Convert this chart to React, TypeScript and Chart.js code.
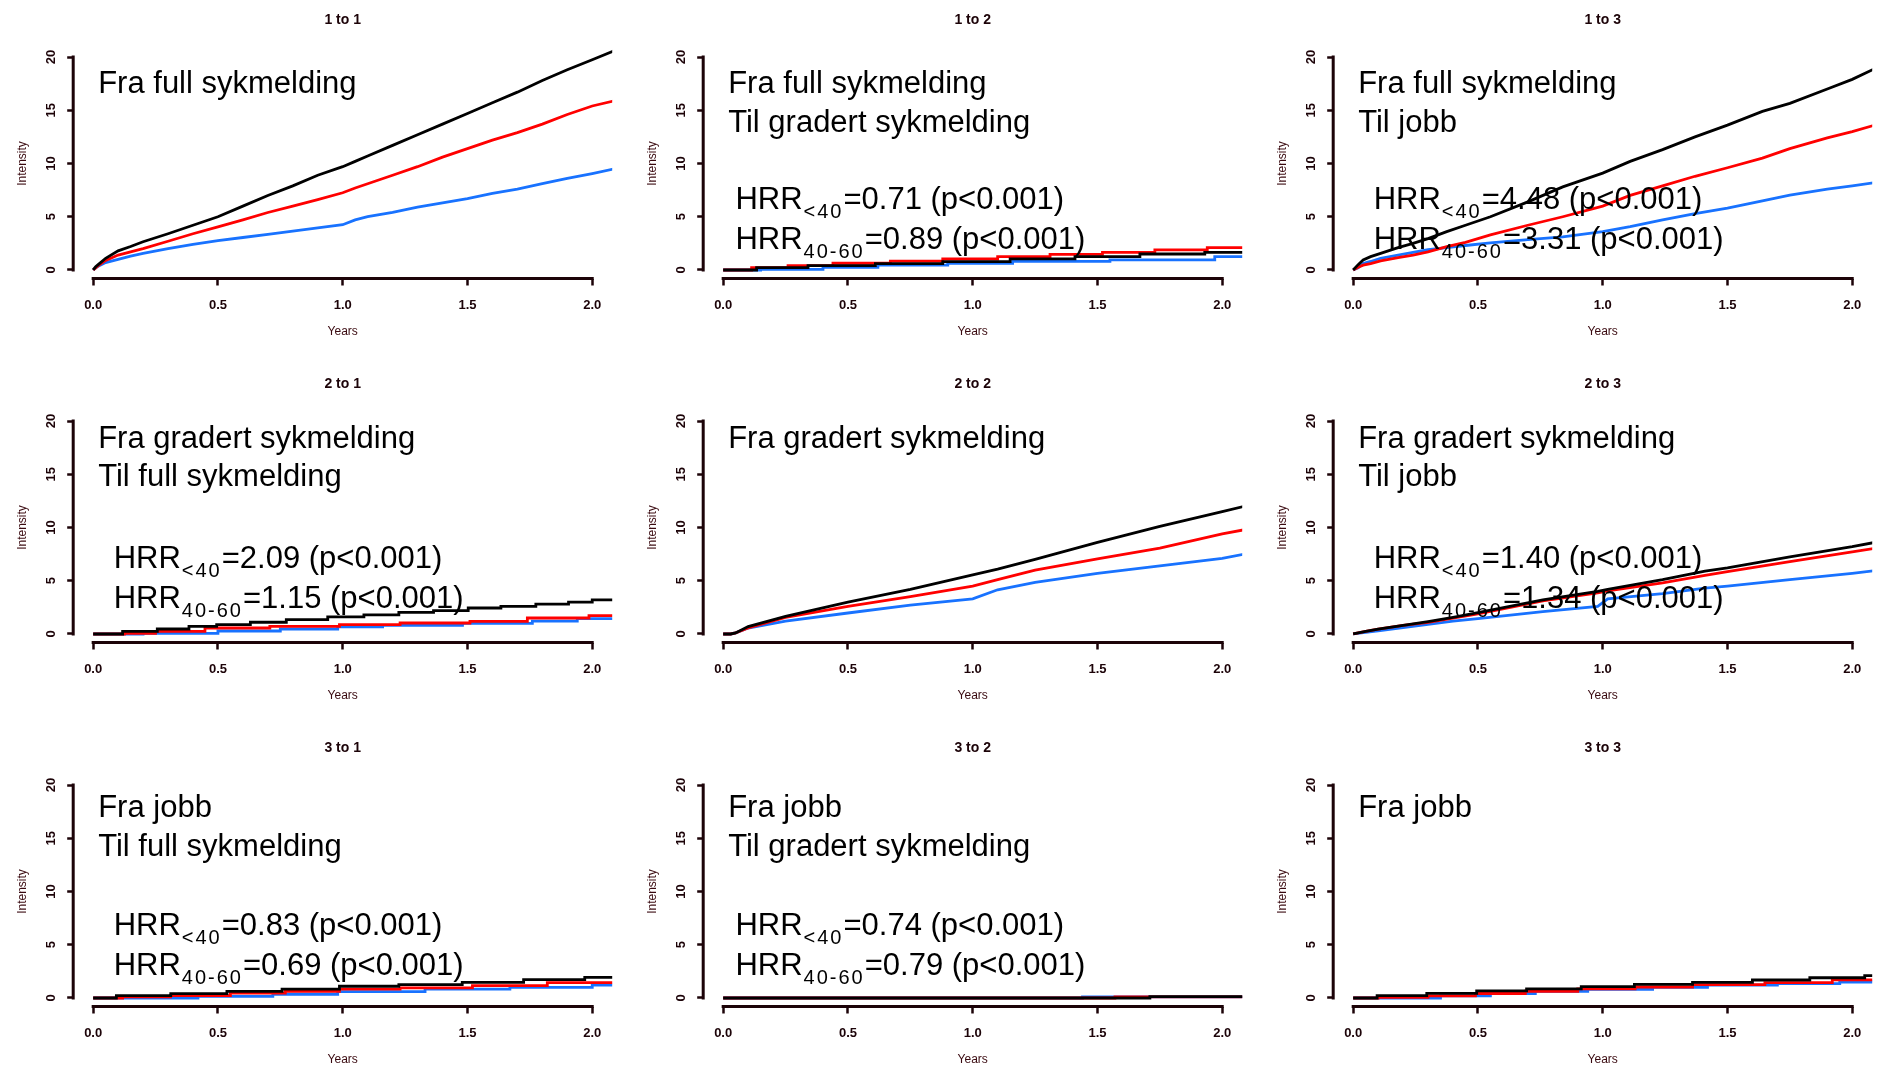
import React, { useEffect, useRef } from 'react';
import { Chart, registerables } from 'chart.js';

Chart.register(...registerables);

const FONT = "'Liberation Sans', Arial, Helvetica, sans-serif";
const AXIS_COLOR = '#1c0308';
const TICK_TEXT = '#1c0308';
const AXIS_TITLE = '#3a0a10';
const BLACK = '#000000';
const RED = '#ff0000';
const BLUE = '#1872ff';

// ---- ticks / ranges ----
const X_TICKS = [0, 0.5, 1.0, 1.5, 2.0];
const Y_TICKS = [0, 5, 10, 15, 20];
const X_MIN = -0.08;
const X_MAX = 2.08;
const Y_MIN = -0.8;
const Y_MAX = 20.8;

// ---- panel titles / texts ----
const PANEL_TITLES = ['1 to 1', '1 to 2', '1 to 3', '2 to 1', '2 to 2', '2 to 3', '3 to 1', '3 to 2', '3 to 3'];
const PANEL_LINES = [
  ['Fra full sykmelding'],
  ['Fra full sykmelding', 'Til gradert sykmelding'],
  ['Fra full sykmelding', 'Til jobb'],
  ['Fra gradert sykmelding', 'Til full sykmelding'],
  ['Fra gradert sykmelding'],
  ['Fra gradert sykmelding', 'Til jobb'],
  ['Fra jobb', 'Til full sykmelding'],
  ['Fra jobb', 'Til gradert sykmelding'],
  ['Fra jobb'],
];
const HRR_UNDER40 = [null, '0.71', '4.48', '2.09', null, '1.40', '0.83', '0.74', null];
const HRR_40TO60 = [null, '0.89', '3.31', '1.15', null, '1.34', '0.69', '0.79', null];
const SERIES_NAMES = ['Svart', 'Rød', 'Blå'];

// ---- 1 to 1 ----
const T_1TO1 = [0, 0.01, 0.02, 0.05, 0.1, 0.15, 0.2, 0.3, 0.4, 0.5, 0.6, 0.7, 0.8, 0.9, 1.0, 1.05, 1.1, 1.2, 1.3, 1.4, 1.5, 1.6, 1.7, 1.8, 1.9, 2.0, 2.09];
const BLACK_1TO1 = [0, 0.3, 0.5, 1.1, 1.8, 2.2, 2.65, 3.4, 4.2, 5.0, 6.0, 7.0, 7.9, 8.9, 9.7, 10.2, 10.7, 11.7, 12.7, 13.7, 14.7, 15.7, 16.7, 17.8, 18.8, 19.75, 20.6];
const RED_1TO1 = [0, 0.2, 0.4, 0.9, 1.4, 1.7, 2.0, 2.7, 3.4, 4.05, 4.7, 5.4, 6.0, 6.6, 7.25, 7.7, 8.1, 8.9, 9.7, 10.6, 11.4, 12.2, 12.9, 13.7, 14.6, 15.4, 15.9];
const BLUE_1TO1 = [0, 0.2, 0.35, 0.7, 1.0, 1.3, 1.55, 2.0, 2.4, 2.75, 3.05, 3.35, 3.65, 3.95, 4.25, 4.7, 5.0, 5.4, 5.9, 6.3, 6.7, 7.2, 7.6, 8.1, 8.6, 9.05, 9.5];

// ---- 1 to 2 (steps) ----
const T_BLACK_1TO2 = [0, 0.134, 0.34, 0.61, 0.88, 1.15, 1.41, 1.67, 1.93, 2.09];
const BLACK_1TO2 = [0, 0.22, 0.4, 0.6, 0.78, 1.05, 1.25, 1.5, 1.66, 1.66];
const T_RED_1TO2 = [0, 0.114, 0.26, 0.44, 0.67, 0.88, 1.1, 1.31, 1.52, 1.73, 1.94, 2.09];
const RED_1TO2 = [0, 0.22, 0.4, 0.63, 0.84, 1.03, 1.25, 1.47, 1.66, 1.88, 2.1, 2.1];
const T_BLUE_1TO2 = [0, 0.15, 0.4, 0.62, 0.9, 1.16, 1.55, 1.97, 2.09];
const BLUE_1TO2 = [0, 0.05, 0.25, 0.45, 0.63, 0.8, 0.95, 1.25, 1.25];

// ---- 1 to 3 ----
const T_1TO3 = [0, 0.02, 0.04, 0.07, 0.11, 0.18, 0.24, 0.3, 0.375, 0.45, 0.55, 0.7, 0.84, 1.0, 1.11, 1.24, 1.37, 1.5, 1.64, 1.75, 1.9, 2.0, 2.09];
const BLACK_1TO3 = [0, 0.5, 0.94, 1.25, 1.56, 2.1, 2.5, 2.95, 3.6, 4.2, 5.0, 6.4, 7.8, 9.1, 10.2, 11.3, 12.5, 13.6, 14.9, 15.65, 17.0, 17.9, 18.9];
const RED_1TO3 = [0, 0.25, 0.45, 0.6, 0.85, 1.15, 1.4, 1.7, 2.2, 2.6, 3.3, 4.2, 5.0, 6.0, 7.0, 7.9, 8.8, 9.6, 10.5, 11.4, 12.4, 13.0, 13.6];
const BLUE_1TO3 = [0, 0.2, 0.6, 0.8, 1.1, 1.4, 1.65, 1.9, 2.1, 2.3, 2.55, 2.85, 3.1, 3.6, 4.07, 4.7, 5.3, 5.8, 6.5, 7.04, 7.6, 7.9, 8.2];

// ---- 2 to 1 (steps) ----
const T_BLACK_2TO1 = [0, 0.118, 0.257, 0.384, 0.495, 0.63, 0.774, 0.94, 1.085, 1.225, 1.364, 1.503, 1.634, 1.774, 1.905, 2.0, 2.09];
const BLACK_2TO1 = [0, 0.25, 0.47, 0.72, 0.875, 1.1, 1.34, 1.6, 1.8, 2.03, 2.2, 2.44, 2.6, 2.8, 3.0, 3.2, 3.2];
const T_RED_2TO1 = [0, 0.125, 0.25, 0.448, 0.708, 0.987, 1.23, 1.51, 1.74, 1.987, 2.09];
const RED_2TO1 = [0, 0.05, 0.25, 0.56, 0.72, 0.875, 1.03, 1.19, 1.5, 1.72, 1.72];
const T_BLUE_2TO1 = [0, 0.2, 0.5, 0.75, 0.98, 1.16, 1.48, 1.76, 1.94, 2.09];
const BLUE_2TO1 = [0, 0.05, 0.28, 0.47, 0.68, 0.8, 1.0, 1.2, 1.45, 1.45];

// ---- 2 to 2 ----
const T_2TO2 = [0, 0.03, 0.05, 0.1, 0.25, 0.5, 0.75, 1.0, 1.1, 1.25, 1.5, 1.75, 2.0, 2.09];
const BLACK_2TO2 = [0, 0, 0.1, 0.7, 1.65, 3.0, 4.2, 5.56, 6.1, 7.0, 8.6, 10.1, 11.5, 12.0];
const RED_2TO2 = [0, 0, 0.1, 0.56, 1.56, 2.6, 3.5, 4.5, 5.1, 6.0, 7.06, 8.06, 9.4, 9.8];
const BLUE_2TO2 = [0, 0, 0.1, 0.56, 1.2, 1.97, 2.7, 3.3, 4.15, 4.84, 5.7, 6.4, 7.1, 7.5];

// ---- 2 to 3 ----
const T_2TO3 = [0, 0.05, 0.1, 0.2, 0.3, 0.4, 0.5, 0.76, 0.98, 1.02, 1.24, 1.41, 1.5, 1.75, 2.0, 2.09];
const BLACK_2TO3 = [0, 0.25, 0.45, 0.8, 1.15, 1.55, 2.0, 3.2, 4.0, 4.2, 5.1, 5.9, 6.2, 7.25, 8.2, 8.6];
const RED_2TO3 = [0, 0.25, 0.45, 0.8, 1.1, 1.5, 1.9, 3.1, 3.85, 4.05, 4.8, 5.5, 5.85, 6.8, 7.7, 8.05];
const BLUE_2TO3 = [0, 0.15, 0.3, 0.6, 0.9, 1.2, 1.45, 2.1, 2.6, 3.3, 3.8, 4.3, 4.5, 5.1, 5.7, 5.95];

// ---- 3 to 1 (steps) ----
const T_BLACK_3TO1 = [0, 0.093, 0.311, 0.536, 0.757, 0.987, 1.225, 1.479, 1.725, 1.97, 2.09];
const BLACK_3TO1 = [0, 0.22, 0.4, 0.62, 0.84, 1.1, 1.25, 1.47, 1.72, 1.94, 1.94];
const T_RED_3TO1 = [0, 0.118, 0.31, 0.55, 0.77, 0.987, 1.23, 1.52, 1.82, 2.09];
const RED_3TO1 = [0, 0.1, 0.22, 0.45, 0.62, 0.84, 0.94, 1.16, 1.44, 1.44];
const T_BLUE_3TO1 = [0, 0.42, 0.72, 0.98, 1.33, 1.67, 2.0, 2.09];
const BLUE_3TO1 = [0, 0.15, 0.35, 0.6, 0.84, 1.0, 1.2, 1.2];

// ---- 3 to 2 (steps) ----
const T_BLACK_3TO2 = [0, 1.71, 2.09];
const BLACK_3TO2 = [0, 0.12, 0.12];
const T_RED_3TO2 = [0, 1.57, 2.09];
const RED_3TO2 = [0, 0.1, 0.1];
const T_BLUE_3TO2 = [0, 1.44, 2.09];
const BLUE_3TO2 = [0, 0.1, 0.1];

// ---- 3 to 3 (steps) ----
const T_BLACK_3TO3 = [0, 0.096, 0.295, 0.495, 0.695, 0.914, 1.127, 1.36, 1.6, 1.83, 2.05, 2.09];
const BLACK_3TO3 = [0, 0.22, 0.44, 0.66, 0.85, 1.06, 1.28, 1.47, 1.69, 1.9, 2.1, 2.1];
const T_RED_3TO3 = [0, 0.1, 0.3, 0.49, 0.69, 0.9, 1.13, 1.36, 1.65, 1.92, 2.09];
const RED_3TO3 = [0, 0.05, 0.2, 0.42, 0.63, 0.85, 1.03, 1.25, 1.45, 1.7, 1.7];
const T_BLUE_3TO3 = [0, 0.35, 0.55, 0.73, 0.94, 1.2, 1.42, 1.7, 1.95, 2.09];
const BLUE_3TO3 = [0, 0.2, 0.42, 0.63, 0.8, 1.0, 1.2, 1.35, 1.5, 1.5];

type Series = { t: number[]; v: number[] };
const PANEL_SERIES: { stepped: boolean; black: Series; red: Series; blue: Series }[] = [
  { stepped: false, black: { t: T_1TO1, v: BLACK_1TO1 }, red: { t: T_1TO1, v: RED_1TO1 }, blue: { t: T_1TO1, v: BLUE_1TO1 } },
  { stepped: true, black: { t: T_BLACK_1TO2, v: BLACK_1TO2 }, red: { t: T_RED_1TO2, v: RED_1TO2 }, blue: { t: T_BLUE_1TO2, v: BLUE_1TO2 } },
  { stepped: false, black: { t: T_1TO3, v: BLACK_1TO3 }, red: { t: T_1TO3, v: RED_1TO3 }, blue: { t: T_1TO3, v: BLUE_1TO3 } },
  { stepped: true, black: { t: T_BLACK_2TO1, v: BLACK_2TO1 }, red: { t: T_RED_2TO1, v: RED_2TO1 }, blue: { t: T_BLUE_2TO1, v: BLUE_2TO1 } },
  { stepped: false, black: { t: T_2TO2, v: BLACK_2TO2 }, red: { t: T_2TO2, v: RED_2TO2 }, blue: { t: T_2TO2, v: BLUE_2TO2 } },
  { stepped: false, black: { t: T_2TO3, v: BLACK_2TO3 }, red: { t: T_2TO3, v: RED_2TO3 }, blue: { t: T_2TO3, v: BLUE_2TO3 } },
  { stepped: true, black: { t: T_BLACK_3TO1, v: BLACK_3TO1 }, red: { t: T_RED_3TO1, v: RED_3TO1 }, blue: { t: T_BLUE_3TO1, v: BLUE_3TO1 } },
  { stepped: true, black: { t: T_BLACK_3TO2, v: BLACK_3TO2 }, red: { t: T_RED_3TO2, v: RED_3TO2 }, blue: { t: T_BLUE_3TO2, v: BLUE_3TO2 } },
  { stepped: true, black: { t: T_BLACK_3TO3, v: BLACK_3TO3 }, red: { t: T_RED_3TO3, v: RED_3TO3 }, blue: { t: T_BLUE_3TO3, v: BLUE_3TO3 } },
];

// ---- layout (pixels / annotation anchors, not data) ----
const CANVAS_W = 624;
const CANVAS_H = 364;
const COL_LEFT = [0, 630, 1260];
const ROW_TOP = [0, 364, 728];
const PLOT_LEFT = 73.2;
const PLOT_RIGHT = 612.2;
const PLOT_TOP = 48.5;
const PLOT_BOTTOM = 278.5;
const TITLE_Y = 20.5;
const TITLE_SIZE = 14;
// baseline positions (in intensity units) of the annotation lines per row
const TEXT_Y = [
  [16.6, 13.0, 5.7, 1.95],
  [17.5, 13.9, 6.2, 2.4],
  [17.0, 13.3, 5.9, 2.15],
];
const TEXT_X = 0.02;
const HRR_X = [0.082, 0.049, 0.082];
const MAIN_FONT = `31px ${FONT}`;
const SUB_FONT = `20px ${FONT}`;
const LINE_W = 2.8;
const AXIS_W = 3;

function toPoints(s: Series) {
  return s.t.map((t, i) => ({ x: t, y: s.v[i] }));
}

function makeOverlay(idx: number) {
  const row = Math.floor(idx / 3);
  const col = idx % 3;
  return {
    id: 'rOverlay' + idx,
    afterDatasetsDraw(chart: any) {
      const { ctx, chartArea } = chart;
      const xs = chart.scales.x;
      const ys = chart.scales.y;
      ctx.save();
      // R style axis lines spanning first to last tick
      ctx.strokeStyle = AXIS_COLOR;
      ctx.lineWidth = AXIS_W;
      ctx.lineCap = 'butt';
      ctx.beginPath();
      ctx.moveTo(xs.getPixelForValue(X_TICKS[0]) - AXIS_W / 2, chartArea.bottom);
      ctx.lineTo(xs.getPixelForValue(X_TICKS[X_TICKS.length - 1]) + AXIS_W / 2, chartArea.bottom);
      ctx.moveTo(chartArea.left, ys.getPixelForValue(Y_TICKS[0]) + AXIS_W / 2);
      ctx.lineTo(chartArea.left, ys.getPixelForValue(Y_TICKS[Y_TICKS.length - 1]) - AXIS_W / 2);
      ctx.stroke();

      // annotation text
      ctx.fillStyle = '#000000';
      ctx.textBaseline = 'alphabetic';
      ctx.textAlign = 'left';
      ctx.font = MAIN_FONT;
      const lines = PANEL_LINES[idx];
      const tx = xs.getPixelForValue(TEXT_X);
      lines.forEach((ln, i) => {
        ctx.fillText(ln, tx, ys.getPixelForValue(TEXT_Y[row][i]));
      });
      const h1 = HRR_UNDER40[idx];
      const h2 = HRR_40TO60[idx];
      if (h1 && h2) {
        const hx = xs.getPixelForValue(HRR_X[col]);
        const drawHrr = (sub: string, val: string, yv: number) => {
          const y = ys.getPixelForValue(yv);
          ctx.font = MAIN_FONT;
          ctx.fillText('HRR', hx, y);
          const w = ctx.measureText('HRR').width;
          ctx.font = SUB_FONT;
          (ctx as any).letterSpacing = '2px';
          ctx.fillText(sub, hx + w + 1, y + 9);
          const sw = ctx.measureText(sub).width;
          (ctx as any).letterSpacing = '0px';
          ctx.font = MAIN_FONT;
          ctx.fillText(`=${val} (p<0.001)`, hx + w + 1 + sw, y);
        };
        drawHrr('<40', h1, TEXT_Y[row][2]);
        drawHrr('40-60', h2, TEXT_Y[row][3]);
      }
      ctx.restore();
    },
  };
}

function Panel({ idx }: { idx: number }) {
  const ref = useRef<HTMLCanvasElement | null>(null);
  const row = Math.floor(idx / 3);
  const col = idx % 3;
  useEffect(() => {
    if (!ref.current) return;
    const ps = PANEL_SERIES[idx];
    const mk = (label: string, s: Series, color: string) => ({
      label,
      data: toPoints(s),
      borderColor: color,
      backgroundColor: color,
      borderWidth: LINE_W,
      pointRadius: 0,
      fill: false,
      tension: 0,
      stepped: ps.stepped ? true : false,
    });
    const titleLH = TITLE_SIZE * 1.2;
    const titlePadTop = TITLE_Y - titleLH / 2;
    const titlePadBottom = PLOT_TOP - titlePadTop - titleLH;
    const chart = new Chart(ref.current, {
      type: 'line',
      data: {
        datasets: [
          mk(SERIES_NAMES[0], ps.black, BLACK),
          mk(SERIES_NAMES[1], ps.red, RED),
          mk(SERIES_NAMES[2], ps.blue, BLUE),
        ],
      },
      options: {
        responsive: false,
        animation: false,
        devicePixelRatio: 1,
        events: [],
        layout: { padding: { left: 0, right: CANVAS_W - PLOT_RIGHT, top: 0, bottom: 0 } },
        plugins: {
          legend: { display: false },
          tooltip: { enabled: false },
          title: {
            display: true,
            text: PANEL_TITLES[idx],
            fullSize: false,
            color: TICK_TEXT,
            font: { family: FONT, size: TITLE_SIZE, weight: 'bold' },
            padding: { top: titlePadTop, bottom: titlePadBottom },
          },
        },
        scales: {
          x: {
            type: 'linear',
            min: X_MIN,
            max: X_MAX,
            afterBuildTicks: (s: any) => {
              s.ticks = X_TICKS.map((v) => ({ value: v }));
            },
            afterFit: (s: any) => {
              s.height = CANVAS_H - PLOT_BOTTOM;
            },
            border: { display: false },
            grid: {
              display: true,
              drawOnChartArea: false,
              drawTicks: true,
              tickLength: 7,
              tickWidth: 2.5,
              tickColor: AXIS_COLOR,
            },
            ticks: {
              autoSkip: false,
              maxRotation: 0,
              minRotation: 0,
              padding: 12,
              color: TICK_TEXT,
              font: { family: FONT, size: 13, weight: 'bold' },
              callback: (v: any) => Number(v).toFixed(1),
            },
            title: {
              display: true,
              text: 'Years',
              color: AXIS_TITLE,
              font: { family: FONT, size: 12 },
              padding: { top: 0, bottom: 24.8 },
            },
          },
          y: {
            type: 'linear',
            min: Y_MIN,
            max: Y_MAX,
            afterBuildTicks: (s: any) => {
              s.ticks = Y_TICKS.map((v) => ({ value: v }));
            },
            afterFit: (s: any) => {
              s.width = PLOT_LEFT;
            },
            border: { display: false },
            grid: {
              display: true,
              drawOnChartArea: false,
              drawTicks: true,
              tickLength: 6,
              tickWidth: 2.5,
              tickColor: AXIS_COLOR,
            },
            ticks: {
              autoSkip: false,
              minRotation: 90,
              maxRotation: 90,
              crossAlign: 'center',
              padding: 9,
              color: TICK_TEXT,
              font: { family: FONT, size: 13, weight: 'bold' },
              callback: (v: any) => String(v),
            },
            title: {
              display: true,
              text: 'Intensity',
              color: AXIS_TITLE,
              font: { family: FONT, size: 12 },
              padding: { top: 15.2, bottom: 0 },
            },
          },
        },
      } as any,
      plugins: [makeOverlay(idx)],
    });
    return () => chart.destroy();
  }, [idx]);
  return (
    <canvas
      ref={ref}
      width={CANVAS_W}
      height={CANVAS_H}
      style={{ position: 'absolute', left: COL_LEFT[col], top: ROW_TOP[row], width: CANVAS_W, height: CANVAS_H, display: 'block' }}
    />
  );
}

export default function App() {
  return (
    <div style={{ position: 'absolute', left: 0, top: 0, width: 1884, height: 1066, overflow: 'hidden', background: '#ffffff' }}>
      {PANEL_TITLES.map((_, i) => (
        <Panel key={i} idx={i} />
      ))}
    </div>
  );
}
